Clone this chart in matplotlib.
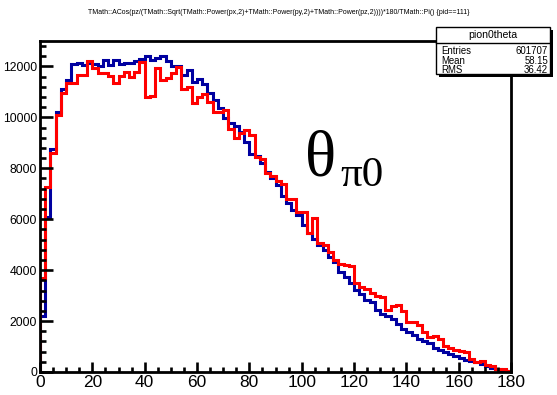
import numpy as np
import matplotlib
matplotlib.use('Agg')
import matplotlib.pyplot as plt
from matplotlib.patches import Rectangle
from matplotlib.lines import Line2D
from matplotlib.ticker import MultipleLocator, FixedLocator

# ---------------- data (2-degree bins, 0..180) ----------------
bin_edges = list(range(0, 182, 2))
blue_counts = [2200, 6100, 8750, 10200, 11100, 11450, 12100, 12150, 12050, 12150,
               12100, 12000, 12250, 12050, 12250, 12100, 12150, 12150, 12200, 12300,
               12400, 12250, 12350, 12400, 12200, 12000, 12000, 11660, 11850, 11400,
               11490, 11330, 10940, 10700, 10350, 9960, 9760, 9650, 9430, 9040,
               8580, 8480, 8190, 7860, 7600, 7340, 6920, 6620, 6350, 6160,
               5760, 5440, 5240, 4980, 4780, 4520, 4320, 3930, 3730, 3500,
               3240, 3080, 2840, 2750, 2420, 2270, 2190, 2100, 1900, 1700,
               1570, 1440, 1310, 1220, 1120, 960, 880, 790, 720, 620,
               560, 490, 430, 380, 300, 220, 170, 100, 60, 30]
red_counts = [3700, 7270, 8600, 10100, 10950, 11360, 11360, 11660, 11660, 12220,
              11920, 11750, 11750, 11620, 11360, 11620, 11800, 11590, 11800, 12180,
              10810, 10830, 11920, 11460, 11530, 11750, 11980, 11100, 11200, 10570,
              10810, 10910, 10600, 10220, 10220, 10280, 9560, 9200, 9400, 9500,
              9300, 8450, 8350, 7800, 7700, 7500, 7400, 6810, 6810, 6290,
              6290, 5440, 6050, 5070, 4980, 4720, 4390, 4260, 4190, 4150,
              3500, 3350, 3250, 3100, 2980, 2950, 2450, 2600, 2630, 2400,
              1960, 1960, 1860, 1580, 1380, 1400, 1280, 1010, 960, 860,
              810, 800, 500, 380, 420, 260, 220, 130, 100, 40]
x_ticks = [0, 20, 40, 60, 80, 100, 120, 140, 160, 180]
y_ticks = [0, 2000, 4000, 6000, 8000, 10000, 12000]
title_text = ("TMath::ACos(pz/(TMath::Sqrt(TMath::Power(px,2)+TMath::Power(py,2)"
              "+TMath::Power(pz,2))))*180/TMath::Pi() {pid==111}")
stats_name = "pion0theta"
stats_labels = ["Entries", "Mean", "RMS"]
stats_values = ["601707", "58.15", "36.42"]

# ---------------- fonts ----------------
plt.rcParams['font.family'] = ['Liberation Sans', 'DejaVu Sans']

W, H = 557, 395
fig = plt.figure(figsize=(W / 100, H / 100), dpi=100)
fig.patch.set_facecolor('white')

def fx(x):
    return x / W

def fy(y):
    return 1 - y / H

L, R, T, B = 40, 511, 41, 372
ax = fig.add_axes([fx(L), fy(B), (R - L) / W, (B - T) / H])

ax.stairs(blue_counts, bin_edges, color='#0000a0', lw=2.2, baseline=0)
ax.stairs(red_counts, bin_edges, color='#ff0000', lw=2.2, baseline=0)
ax.set_xlim(0, 180)
ax.set_ylim(0, 13000)

for s in ax.spines.values():
    s.set_linewidth(2.0)
ax.xaxis.set_major_locator(FixedLocator(x_ticks))
ax.xaxis.set_minor_locator(MultipleLocator(5))
ax.yaxis.set_major_locator(FixedLocator(y_ticks))
ax.yaxis.set_minor_locator(MultipleLocator(400))
ax.tick_params(axis='y', which='major', direction='in', length=9.4, width=1.9, pad=2,
               labelsize=8.8)
ax.tick_params(axis='y', which='minor', direction='in', length=4.2, width=1.9)
ax.tick_params(axis='x', which='major', direction='in', length=7.2, width=1.9, pad=2.5,
               labelsize=12.5)
ax.tick_params(axis='x', which='minor', direction='in', length=3.6, width=1.9)
ax.set_xticklabels([str(v) for v in x_ticks])
ax.set_yticklabels([str(v) for v in y_ticks])

# ---------------- title ----------------
t = fig.text(0.5, fy(12), title_text, ha='center', va='center', fontsize=5)
fig.canvas.draw()
w = t.get_window_extent().width
t.set_fontsize(5 * 382 / w)

# ---------------- stats box ----------------
bx0, bx1, by0, by1 = 436, 550, 27, 74
fig.add_artist(Rectangle((fx(bx0 + 2.5), fy(by1 + 2.5)), (bx1 - bx0) / W, (by1 - by0) / H,
                         transform=fig.transFigure, facecolor='black', edgecolor='none', zorder=5))
fig.add_artist(Rectangle((fx(bx0), fy(by1)), (bx1 - bx0) / W, (by1 - by0) / H,
                         transform=fig.transFigure, facecolor='white', edgecolor='black',
                         lw=1.0, zorder=6))
fig.add_artist(Line2D([fx(bx0), fx(bx1)], [fy(43), fy(43)], transform=fig.transFigure,
                      color='black', lw=1.0, zorder=7))
fig.text(fx((bx0 + bx1) / 2), fy(35), stats_name, ha='center', va='center',
         fontsize=7.6, zorder=8)
sfs = 6.9
for i, (lab, val) in enumerate(zip(stats_labels, stats_values)):
    yy = 51 + 9.7 * i
    fig.text(fx(bx0 + 5), fy(yy), lab, ha='left', va='center', fontsize=sfs, zorder=8)
    fig.text(fx(bx1 - 2), fy(yy), val, ha='right', va='center', fontsize=sfs, zorder=8)

# ---------------- theta label ----------------
fig.text(fx(305), fy(176), 'θ', family=['Liberation Serif', 'DejaVu Serif'],
         fontsize=47, va='baseline', ha='left')
fig.text(fx(340), fy(186), 'π0', family=['Liberation Serif', 'DejaVu Serif'],
         fontsize=31, va='baseline', ha='left')

fig.savefig('out.png', dpi=100, facecolor='white')
